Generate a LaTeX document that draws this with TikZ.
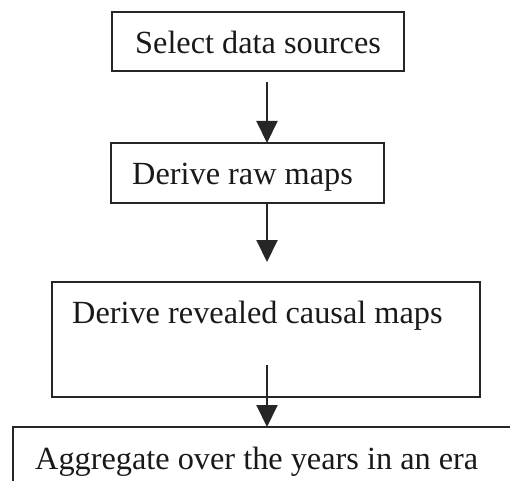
\documentclass[tikz,border=0pt]{standalone}
\usepackage{fontspec}
\setmainfont{Liberation Serif}
\usetikzlibrary{arrows.meta}
\tikzset{
  stepbox/.style={draw=black!85, line width=1.5bp, inner sep=0pt},
  steptext/.style={anchor=base west, inner sep=0pt, font=\fontsize{32.3bp}{37bp}\selectfont, text=black!90},
  flow/.style={line width=2bp, draw=black!85, -{Triangle[length=22bp,width=21bp]}}
}
\begin{document}
\begin{tikzpicture}[x=1bp,y=-1bp]
\useasboundingbox (0,0) rectangle (510,481);
\clip (0,0) rectangle (510,481);
% boxes
\node[stepbox, minimum width=292bp, minimum height=59bp] (b1) at (258,41.5) {};
\node[stepbox, minimum width=273bp, minimum height=60bp] (b2) at (247.5,173) {};
\node[stepbox, minimum width=428bp, minimum height=115bp] (b3) at (266,339.5) {};
\node[stepbox, minimum width=520bp, minimum height=120bp] (b4) at (273,487) {};
% texts
\node[steptext] (t1) at (135,54) {Select data sources};
\node[steptext] (t2) at (132,185) {Derive raw maps};
\node[steptext] (t3) at (72,323) {Derive revealed causal maps};
\node[steptext] (t4) at (35,469) {Aggregate over the years in an era};
% connectors
\coordinate (s1) at (267,82);
\coordinate (e1) at (267,143);
\coordinate (s2) at (267,203);
\coordinate (e2) at (267,262);
\coordinate (s3) at (267,365);
\coordinate (e3) at (267,427);
\draw[flow] (s1) -- (e1);
\draw[flow] (s2) -- (e2);
\draw[flow] (s3) -- (e3);
\end{tikzpicture}
\end{document}
